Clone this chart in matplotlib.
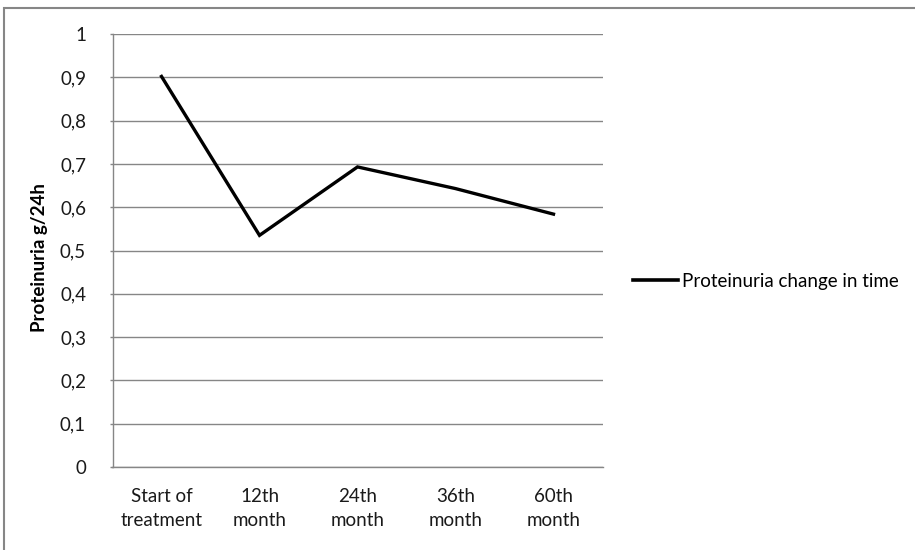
import matplotlib
matplotlib.use("Agg")
import matplotlib.pyplot as plt
from matplotlib.patches import Rectangle
from matplotlib.lines import Line2D

categories = ["Start of\ntreatment", "12th\nmonth", "24th\nmonth", "36th\nmonth", "60th\nmonth"]
proteinuria = [0.902, 0.535, 0.693, 0.643, 0.584]
y_ticks = [0, 0.1, 0.2, 0.3, 0.4, 0.5, 0.6, 0.7, 0.8, 0.9, 1.0]
y_tick_labels = ["0", "0,1", "0,2", "0,3", "0,4", "0,5", "0,6", "0,7", "0,8", "0,9", "1"]
series_name = "Proteinuria change in time"
y_title = "Proteinuria g/24h"

plt.rcParams["font.family"] = ["Lato", "DejaVu Sans"]

W, H = 915, 550
fig = plt.figure(figsize=(W / 100, H / 100), dpi=100)
fig.patch.set_facecolor("white")

# outer chart frame (top and left edges visible)
fig.patches.append(Rectangle((4 / W, -0.1), 1.2, 1 - 8 / H + 0.1,
                             transform=fig.transFigure, fill=False,
                             edgecolor="#868686", linewidth=1.5))

left, right, top, bottom = 112.5, 602.5, 34, 467
ax = fig.add_axes([left / W, 1 - bottom / H, (right - left) / W, (bottom - top) / H])

x = list(range(len(categories)))
ax.plot(x, proteinuria, color="black", linewidth=2.4, solid_joinstyle="miter")

FS = 13.5
ax.set_xlim(-0.5, len(categories) - 0.5)
ax.set_ylim(0, 1)
ax.set_yticks(y_ticks)
ax.set_yticklabels(y_tick_labels, fontsize=FS, color="#1a1a1a")
ax.set_xticks(x)
ax.set_xticklabels(categories, fontsize=FS, color="#1a1a1a", linespacing=1.5)
ax.tick_params(axis="x", length=0, pad=15)
ax.tick_params(axis="y", length=2, color="#868686", width=1, pad=17)

ax.grid(axis="y", color="#868686", linewidth=1)
ax.set_axisbelow(True)
for s in ["top", "right"]:
    ax.spines[s].set_visible(False)
for s in ["left", "bottom"]:
    ax.spines[s].set_color("#868686")
    ax.spines[s].set_linewidth(1)

fig.text(40 / W, 1 - 258 / H, y_title, rotation=90, fontsize=FS,
         fontweight="bold", ha="center", va="center", color="black")

handle = Line2D([], [], color="black", linewidth=2.6)
fig.legend([handle], [series_name], loc="center left",
           bbox_to_anchor=(633 / W, 1 - 281 / H), frameon=False,
           fontsize=FS, handlelength=2.4, handletextpad=0.2,
           borderaxespad=0, borderpad=0)

fig.savefig("out.png", dpi=100)
